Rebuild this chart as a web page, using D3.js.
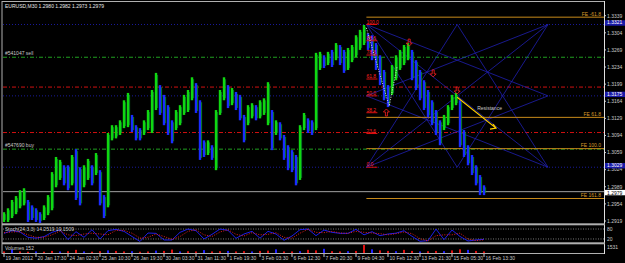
<!DOCTYPE html>
<html>
<head>
<meta charset="utf-8">
<script src="https://cdn.jsdelivr.net/npm/d3@7/dist/d3.min.js"></script>
<style>
  body { margin: 0; background: #000; }
  svg text { font-family: Arial, "Liberation Sans", sans-serif; font-size: 5px; fill: #c8c8c8; }
</style>
</head>
<body>
<svg id="chart" width="625" height="263"></svg>
<script>
// EURUSD M30 bars (every 4th bar)
let highs = [1.2937,1.2945,1.2962,1.2970,1.2982,1.2986,1.2962,1.2951,1.2945,1.2937,1.2951,1.2972,1.3019,1.3050,1.3044,1.3033,1.3033,1.3054,1.3066,1.3029,
  1.3033,1.3046,1.3033,1.3058,1.3023,1.2972,1.3099,1.3115,1.3115,1.3125,1.3166,1.3181,1.3136,1.3115,1.3109,1.3125,1.3146,1.3187,1.3222,1.3197,
  1.3177,1.3156,1.3125,1.3146,1.3156,1.3177,1.3187,1.3213,1.3201,1.3166,1.3084,1.3084,1.3074,1.3146,1.3187,1.3213,1.3197,1.3191,1.3183,1.3177,
  1.3136,1.3156,1.3160,1.3156,1.3166,1.3170,1.3203,1.3146,1.3125,1.3121,1.3095,1.3074,1.3064,1.3054,1.3115,1.3140,1.3129,1.3125,1.3263,1.3265,
  1.3258,1.3265,1.3269,1.3283,1.3279,1.3269,1.3273,1.3279,1.3299,1.3310,1.3320,1.3303,1.3299,1.3283,1.3258,1.3228,1.3197,1.3238,1.3258,1.3269,
  1.3279,1.3283,1.3269,1.3248,1.3228,1.3207,1.3187,1.3166,1.3146,1.3125,1.3136,1.3156,1.3177,1.3181,1.3166,1.3105,1.3074,1.3054,1.3033,1.3013,1.2992]
let lows = [1.2917,1.2917,1.2925,1.2933,1.2945,1.2951,1.2917,1.2921,1.2917,1.2915,1.2921,1.2931,1.2941,1.2988,1.3003,1.2992,1.2982,1.2992,1.2962,1.2951,
  1.2988,1.3003,1.2992,1.3013,1.2951,1.2925,1.2947,1.3084,1.3088,1.3095,1.3109,1.3111,1.3101,1.3084,1.3084,1.3095,1.3105,1.3099,1.3146,1.3136,
  1.3115,1.3095,1.3078,1.3105,1.3115,1.3136,1.3142,1.3166,1.3140,1.3044,1.3050,1.3054,1.3044,1.3023,1.3136,1.3166,1.3150,1.3156,1.3146,1.3125,
  1.3080,1.3115,1.3129,1.3125,1.3129,1.3136,1.3115,1.3064,1.3095,1.3084,1.3044,1.3023,1.3019,1.2992,1.3003,1.3105,1.3099,1.3095,1.3105,1.3228,
  1.3232,1.3238,1.3234,1.3248,1.3238,1.3222,1.3228,1.3244,1.3254,1.3269,1.3279,1.3269,1.3248,1.3228,1.3197,1.3166,1.3152,1.3177,1.3207,1.3228,
  1.3238,1.3248,1.3207,1.3187,1.3166,1.3146,1.3131,1.3115,1.3095,1.3074,1.3105,1.3115,1.3146,1.3156,1.3070,1.3050,1.3033,1.3013,1.2992,1.2972,1.2972]

let priceTicks = ["1.3339","1.3304","1.3269","1.3234","1.3199","1.3164","1.3129","1.3094","1.3059","1.3024","1.2989","1.2954","1.2919"]
let timeLabels = ["19 Jan 2012","20 Jan 17:30","24 Jan 02:30","25 Jan 10:30","26 Jan 19:30","30 Jan 03:30","31 Jan 11:30","1 Feb 19:30",
  "3 Feb 03:30","6 Feb 12:30","7 Feb 20:30","9 Feb 04:30","10 Feb 12:30","13 Feb 21:30","15 Feb 05:30","16 Feb 13:30"]

// stochastic %K / %D and volumes, every 8th bar
let stochK = [54,70,62,30,25,34,60,75,16,64,30,76,20,70,78,66,35,5,56,54,14,14,60,80,70,20,48,80,72,24,50,66,25,66,50,12,38,76,80,40,74,60,54,54,78,45,64,40,50,55,70,36,6,10,80,16,74,35,8,14,18]
let stochD = [58,62,64,45,30,30,45,68,45,40,50,55,50,45,72,72,55,25,30,50,35,18,35,66,76,45,35,62,76,48,38,58,45,48,58,30,25,55,78,60,58,66,56,54,66,60,56,52,45,52,62,52,22,8,40,45,45,55,20,10,15]
let volumes = [300,700,300,250,300,250,400,300,350,600,300,250,350,500,400,300,350,250,300,450,400,650,300,350,300,550,300,350,400,300,350,300,400,450,700,300,300,350,600,500,800,350,300,350,400,1531,700,500,400,350,600,400,300,350,400,350,500,700,600,400,300]

// horizontal objects
let alertLevels = [1.3321, 1.3175, 1.3029]
let stopLevels = [1.3193, 1.3100]
let orderLevels = [1.3254, 1.3066]
let orderNames = ["#541047 sell", "#547690 buy"]
let bid = 1.2979
let feNames = ["FE -61.8", "FE 61.8", "FE 100.0", "FE 161.8"]
let feLevels = [1.3336, 1.3131, 1.3067, 1.2965]
let fibNames = ["100.0", "88.6", "78.6", "61.8", "50.0", "38.2", "23.6", "0.0"]
let fibRatios = [1, 0.886, 0.786, 0.618, 0.5, 0.382, 0.236, 0]
let fibHigh = 1.3321, fibLow = 1.3029, fibStart = 90.6

// gann star, bar index x price
let gannT = [90.6, 113.3, 136]
let gannP = [1.3321, 1.3175, 1.3029]
let gannEdges = [[1,0,0,2],[1,0,2,2],[1,2,0,0],[1,2,2,0],[2,1,0,0],[2,1,0,2],[0,1,2,0],[0,1,2,2],[0,0,2,2],[2,0,0,2]]

let zigzagT = [90.6, 96.3, 98.3], zigzagP = [1.3314, 1.3154, 1.3236]
let upArrows = [[95.6, 1.3140]]
let downArrows = [[101.3, 1.3285], [107.3, 1.3222], [113.3, 1.3187]]
let resistance = [[113.3, 1.3172], [123, 1.3109]]

let svg = d3.select("#chart")
let left = 3, right = 604

let x = d3.scaleLinear().domain([0, 120]).range([4, 484])
let y = d3.scaleLinear().domain([1.2919, 1.3339]).range([221, 15.7])
let ys = d3.scaleLinear().domain([0, 100]).range([242.3, 225.7])
let yv = d3.scaleLinear().domain([0, 1531]).range([253, 245])

svg.append("rect").attr("width", 625).attr("height", 263).attr("fill", "#000")

svg.append("clipPath").attr("id", "main").append("rect")
  .attr("x", left).attr("y", 2).attr("width", right - left).attr("height", 221)

let g = svg.append("g").attr("clip-path", "url(#main)")

// grid + levels
g.selectAll(".alert").data(alertLevels).enter().append("line")
  .attr("x1", left).attr("x2", right).attr("y1", d => y(d)).attr("y2", d => y(d))
  .attr("stroke", "#1a1a9a").attr("stroke-dasharray", "1,2")
g.selectAll(".stop").data(stopLevels).enter().append("line")
  .attr("x1", left).attr("x2", right).attr("y1", d => y(d)).attr("y2", d => y(d))
  .attr("stroke", "#d01010").attr("stroke-dasharray", "4,2,1,2")
g.selectAll(".order").data(orderLevels).enter().append("line")
  .attr("x1", left).attr("x2", right).attr("y1", d => y(d)).attr("y2", d => y(d))
  .attr("stroke", "#20a020").attr("stroke-dasharray", "4,2,1,2")
g.selectAll(".orderName").data(orderNames).enter().append("text")
  .attr("x", 5).attr("y", (d, i) => y(orderLevels[i]) - 2.5).text(d => d)
g.append("line").attr("x1", left).attr("x2", right).attr("y1", y(bid)).attr("y2", y(bid))
  .attr("stroke", "#a0a0a0")

// gann star
g.selectAll(".gann").data(gannEdges).enter().append("line")
  .attr("x1", d => x(gannT[d[0]])).attr("y1", d => y(gannP[d[1]]))
  .attr("x2", d => x(gannT[d[2]])).attr("y2", d => y(gannP[d[3]]))
  .attr("stroke", "#2020b0").attr("stroke-width", 0.8)

// expansion levels
g.selectAll(".fe").data(feLevels).enter().append("line")
  .attr("x1", x(fibStart)).attr("x2", right).attr("y1", d => y(d)).attr("y2", d => y(d))
  .attr("stroke", "#c88a1a")
g.selectAll(".feName").data(feNames).enter().append("text")
  .attr("x", right - 3).attr("y", (d, i) => y(feLevels[i]) - 1.5)
  .attr("text-anchor", "end").style("fill", "#d89a2a").text(d => d)

// price bars
let mids = highs.map((h, i) => (h + lows[i]) / 2)
g.selectAll(".bar").data(highs).enter().append("rect")
  .attr("x", (d, i) => x(i) - 1.2).attr("width", 2.4)
  .attr("y", d => y(d)).attr("height", (d, i) => y(lows[i]) - y(d))
  .attr("fill", (d, i) => i > 0 && mids[i] < mids[i - 1] ? "#1a2cff" : "#10d810")
g.selectAll(".wick").data(highs).enter().append("line")
  .attr("x1", (d, i) => x(i) + 1.6).attr("x2", (d, i) => x(i) + 1.6)
  .attr("y1", d => y(d) + 2).attr("y2", (d, i) => y(lows[i]) - 2)
  .attr("stroke", "#0a9a30").attr("stroke-width", 0.8)

// fibo retracement
let fibY = r => y(fibLow + (fibHigh - fibLow) * r)
g.selectAll(".fib").data(fibRatios).enter().append("line")
  .attr("x1", x(fibStart)).attr("x2", x(fibStart) + 11).attr("y1", fibY).attr("y2", fibY)
  .attr("stroke", "#e01010")
g.selectAll(".fibName").data(fibNames).enter().append("text")
  .attr("x", x(fibStart)).attr("y", (d, i) => fibY(fibRatios[i]) - 0.8)
  .style("fill", "#ff2020").text(d => d)

// zigzag
g.append("path")
  .attr("d", d3.line()(zigzagT.map((t, i) => [x(t), y(zigzagP[i])])))
  .attr("fill", "none").attr("stroke", "#e0e0e0").attr("stroke-dasharray", "1,1.5")

// arrows
g.selectAll(".up").data(upArrows).enter().append("path")
  .attr("transform", d => "translate(" + x(d[0]) + "," + y(d[1]) + ")")
  .attr("d", "M0,-4L-3,-1H-1V3H1V-1H3Z").attr("fill", "none").attr("stroke", "#ff2020").attr("stroke-width", 0.8)
g.selectAll(".down").data(downArrows).enter().append("path")
  .attr("transform", d => "translate(" + x(d[0]) + "," + y(d[1]) + ")")
  .attr("d", "M0,4L-3,1H-1V-3H1V1H3Z").attr("fill", "none").attr("stroke", "#ff2020").attr("stroke-width", 0.8)

// resistance arrow
let r0 = [x(resistance[0][0]), y(resistance[0][1])], r1 = [x(resistance[1][0]), y(resistance[1][1])]
g.append("line").attr("x1", r0[0]).attr("y1", r0[1]).attr("x2", r1[0]).attr("y2", r1[1])
  .attr("stroke", "#ffd000").attr("stroke-width", 1.2)
g.append("path").attr("d", "M" + (r1[0] - 6) + "," + (r1[1] + 1) + "L" + r1[0] + "," + r1[1] + "L" + (r1[0] - 3) + "," + (r1[1] - 4))
  .attr("fill", "none").attr("stroke", "#ffd000").attr("stroke-width", 1.2)
g.append("text").attr("x", r0[0] + 20).attr("y", r0[1] + 13).text("Resistance")

// title
svg.append("text").attr("x", 5).attr("y", 8).style("fill", "#e8e8e8").text("EURUSD,M30  1.2980 1.2982 1.2973 1.2979")

// price axis
svg.selectAll(".ptick").data(priceTicks).enter().append("line")
  .attr("x1", right).attr("x2", right + 2).attr("y1", d => y(+d)).attr("y2", d => y(+d)).attr("stroke", "#c8c8c8")
svg.selectAll(".plabel").data(priceTicks).enter().append("text")
  .attr("x", right + 3).attr("y", d => y(+d) + 1.8).text(d => d)
svg.selectAll(".abox").data(alertLevels).enter().append("rect")
  .attr("x", right + 1).attr("y", d => y(d) - 4.2).attr("width", 20).attr("height", 5.4).attr("fill", "#1a1aa8")
svg.selectAll(".alabel").data(alertLevels).enter().append("text")
  .attr("x", right + 3).attr("y", d => y(d) - 0.3).style("fill", "#fff").text(d => d.toFixed(4))
svg.append("rect").attr("x", right + 1).attr("y", y(bid) - 1.8).attr("width", 20).attr("height", 5.4).attr("fill", "#fff")
svg.append("text").attr("x", right + 3).attr("y", y(bid) + 3).style("fill", "#000").text(bid.toFixed(4))

// stochastic
let sx = i => x(i * 2)
svg.selectAll(".slevel").data([80, 20]).enter().append("line")
  .attr("x1", left).attr("x2", right).attr("y1", d => ys(d)).attr("y2", d => ys(d))
  .attr("stroke", "#c8c8c8").attr("stroke-dasharray", "1,1.5").attr("stroke-width", 0.6)
svg.append("path").attr("d", d3.line().x((d, i) => sx(i)).y(d => ys(d))(stochK))
  .attr("fill", "none").attr("stroke", "#2020ff").attr("stroke-width", 0.9)
svg.append("path").attr("d", d3.line().x((d, i) => sx(i)).y(d => ys(d))(stochD))
  .attr("fill", "none").attr("stroke", "#ff2020").attr("stroke-width", 0.9).attr("stroke-dasharray", "1,1.5")
svg.append("text").attr("x", 5).attr("y", 231).text("Stoch(24,3,3) 14.2519 19.1509")
svg.selectAll(".slabel").data([80, 20]).enter().append("text")
  .attr("x", right + 3).attr("y", d => ys(d) + 2).text(d => d)

// volumes
svg.selectAll(".vol").data(volumes).enter().append("rect")
  .attr("x", (d, i) => sx(i) - 1).attr("width", 2)
  .attr("y", d => yv(d)).attr("height", d => yv(0) - yv(d))
  .attr("fill", (d, i) => i % 3 == 1 ? "#2020ff" : "#e01010")
svg.append("text").attr("x", 5).attr("y", 250).text("Volumes 152")
svg.append("text").attr("x", right + 3).attr("y", 249).text("1531")

// panel frames
svg.append("line").attr("x1", left - 1).attr("x2", right).attr("y1", 1.5).attr("y2", 1.5).attr("stroke", "#b0b0b0")
svg.append("line").attr("x1", left - 1).attr("x2", left - 1).attr("y1", 1).attr("y2", 254).attr("stroke", "#b0b0b0")
svg.append("line").attr("x1", right + 0.5).attr("x2", right + 0.5).attr("y1", 1).attr("y2", 254).attr("stroke", "#e0e0e0")
svg.selectAll(".sep").data([224.3, 243.3]).enter().append("rect")
  .attr("x", left - 1).attr("y", d => d - 1).attr("width", right - left + 2).attr("height", 2).attr("fill", "#b0b0b0")
svg.append("line").attr("x1", left - 1).attr("x2", right).attr("y1", 253.5).attr("y2", 253.5).attr("stroke", "#b0b0b0")

// time axis
svg.selectAll(".ttick").data(timeLabels).enter().append("line")
  .attr("x1", (d, i) => x(i * 8)).attr("x2", (d, i) => x(i * 8)).attr("y1", 254).attr("y2", 257)
  .attr("stroke", "#c8c8c8")
svg.selectAll(".tlabel").data(timeLabels).enter().append("text")
  .attr("x", (d, i) => x(i * 8) + 1.5).attr("y", 260).text(d => d)
</script>
</body>
</html>
